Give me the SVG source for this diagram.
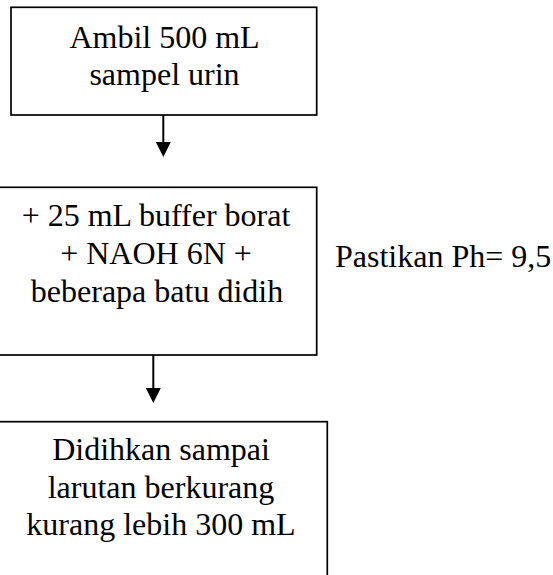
<svg xmlns="http://www.w3.org/2000/svg" width="553" height="575" viewBox="0 0 553 575">
<defs>
<style>
.box{fill:#fff;stroke:#000;stroke-width:1.7}
.t{font-family:"Liberation Serif","Times New Roman",serif;font-size:32px;fill:#000;text-anchor:middle}
.tl{font-family:"Liberation Serif","Times New Roman",serif;font-size:32px;fill:#000}
.conn{stroke:#000;stroke-width:2;fill:none}
</style>
</defs>
<rect width="553" height="575" fill="#fff"/>
<g id="node1">
<rect class="box" x="11" y="7.3" width="305.7" height="107.7"/>
<text class="t" x="164.5" y="48">Ambil 500 mL</text>
<text class="t" x="164.5" y="85">sampel urin</text>
</g>
<g id="node2">
<rect class="box" x="-5" y="187.3" width="321.7" height="167.7"/>
<text class="t" x="156" y="226">+ 25 mL buffer borat</text>
<text class="t" x="156" y="264">+ NAOH 6N +</text>
<text class="t" x="157" y="302">beberapa batu didih</text>
</g>
<g id="note">
<text class="tl" x="335" y="266.5">Pastikan Ph= 9,5</text>
</g>
<g id="node3">
<rect class="box" x="-5" y="421.7" width="332.3" height="170"/>
<text class="t" x="161" y="460">Didihkan sampai</text>
<text class="t" x="161" y="498">larutan berkurang</text>
<text class="t" x="161" y="535">kurang lebih 300 mL</text>
</g>
<g id="connectors">
<line class="conn" x1="163.3" y1="115" x2="163.3" y2="143"/>
<polygon points="155.8,142 170.8,142 163.3,157" fill="#000"/>
<line class="conn" x1="153.3" y1="355" x2="153.3" y2="389"/>
<polygon points="145.8,388 160.8,388 153.3,403" fill="#000"/>
</g>
</svg>
